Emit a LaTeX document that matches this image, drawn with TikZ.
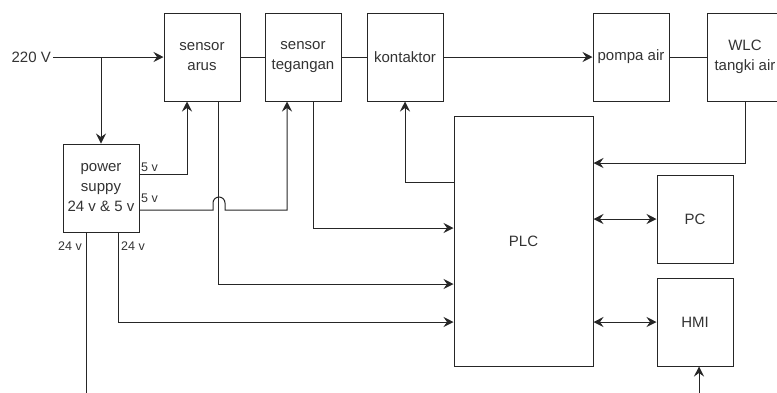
\documentclass[tikz,border=0pt]{standalone}
\usepackage{fontspec}
\setmainfont{Liberation Sans}
\usetikzlibrary{arrows.meta, calc}
\definecolor{linecol}{HTML}{262626}
\definecolor{textcol}{HTML}{333333}

\begin{document}
\begin{tikzpicture}[
    x=1pt, y=1pt,
    box/.style={draw=linecol, line width=1pt, minimum width=76pt, minimum height=88pt,
                inner sep=2pt, align=center, text=textcol,
                font=\fontsize{15}{20}\selectfont},
    lbl/.style={text=textcol, inner sep=2pt, font=\fontsize{15}{20}\selectfont},
    volt/.style={text=textcol, inner sep=0pt, font=\fontsize{12.5}{14}\selectfont},
    wire/.style={draw=linecol, line width=1pt},
    conn/.style={wire, -{Stealth[length=10pt, width=10pt, inset=3.5pt]}},
    bconn/.style={wire, {Stealth[length=10pt, width=10pt, inset=3.5pt]}-{Stealth[length=10pt, width=10pt, inset=3.5pt]}}
  ]
  \useasboundingbox (0,0) rectangle (777,-392);

  % ---- Top row ----
  \node[box] (arus)      at (202,-57) {sensor\\arus};
  \node[box] (tegangan)  at (303,-57) {sensor\\tegangan};
  \node[box] (kontaktor) at (405,-57) {kontaktor};
  \node[box] (pompa)     at (631,-57) {pompa air};
  \node[box] (wlc)       at (745,-57) {WLC\\tangki air};

  % ---- Supply, controller and operator side ----
  \node[box] (power) at (101,-188) {power\\suppy\\24 v \& 5 v};
  \node[box, minimum width=139pt, minimum height=250pt] (plc) at (523.5,-241) {PLC};
  \node[box] (pc)  at (695,-219) {PC};
  \node[box] (hmi) at (695,-322) {HMI};

  % ---- Mains input ----
  \node[lbl, anchor=east] (mains) at (53,-57) {220 V};
  \draw[conn] (mains) -- (arus);
  \draw[conn] (mains.east -| power.north) -- (power.north);

  % ---- Main power path ----
  \draw[wire] (arus) -- (tegangan);
  \draw[wire] (tegangan) -- (kontaktor);
  \draw[conn] (kontaktor) -- (pompa);
  \draw[wire] (pompa) -- (wlc);

  % ---- 5 v supply to the sensors (with a jump over the arus signal) ----
  \draw[conn] (power.east |- 0,-174) -| ([xshift=-15pt]arus.south);
  \draw[conn] (power.east |- 0,-210) -- (213,-210) -- (213,-203)
    arc (180:0:6) -- (225,-210) -| ([xshift=-16pt]tegangan.south);
  \node[volt, anchor=west] at (141,-167) {5 v};
  \node[volt, anchor=west] at (141,-198) {5 v};

  % ---- Signals into the PLC ----
  \draw[conn] ([xshift=10pt]tegangan.south) |- ([yshift=13pt]plc.west);
  \draw[conn] ([xshift=16pt]arus.south) |- ([yshift=-43pt]plc.west);
  \draw[conn] ([xshift=17pt]power.south) |- ([yshift=-81pt]plc.west);
  \draw[conn] ([yshift=59pt]plc.west) -| (kontaktor.south);
  \draw[conn] (wlc.south) |- ([yshift=78pt]plc.east);

  % ---- 24 v outputs ----
  \coordinate (pwrout) at (86,-394);
  \draw[wire] ([xshift=-15pt]power.south) -- (pwrout);
  \node[volt] at (70,-246) {24 v};
  \node[volt] at (133,-246) {24 v};

  % ---- PLC <-> PC / HMI ----
  \draw[bconn] (pc.west -| plc.east) -- (pc.west);
  \draw[bconn] (hmi.west -| plc.east) -- (hmi.west);
  \coordinate (hmiin) at (699,-394);
  \draw[conn] (hmiin) -- ([xshift=4pt]hmi.south);

\end{tikzpicture}
\end{document}
